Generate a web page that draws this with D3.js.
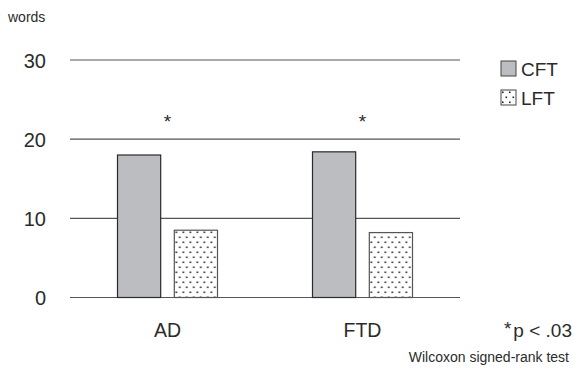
<!DOCTYPE html>
<html>
<head>
<meta charset="utf-8">
<script src="https://d3js.org/d3.v7.min.js"></script>
<style>
  body { margin: 0; background: #fff; }
  svg text { font-family: "Liberation Sans", Arial, sans-serif; fill: #2b2b2b; }
</style>
</head>
<body>
<div id="chart"></div>
<script>
var categories = ["AD", "FTD"];
var series     = ["CFT", "LFT"];
var cftValues  = [18.0, 18.4];
var lftValues  = [8.5, 8.2];
var yTicks     = [0, 10, 20, 30];
var sigMarks   = ["*", "*"];

var width = 573, height = 373;

var svg = d3.select("#chart").append("svg")
    .attr("width", width)
    .attr("height", height);

var defs = svg.append("defs");
var pat = defs.append("pattern")
    .attr("id", "dots")
    .attr("patternUnits", "userSpaceOnUse")
    .attr("width", 7)
    .attr("height", 10);
pat.append("rect").attr("width", 7).attr("height", 10).attr("fill", "#fff");
pat.append("rect").attr("x", 1).attr("y", 1.5).attr("width", 1.6).attr("height", 1.6).attr("fill", "#222");
pat.append("rect").attr("x", 4.5).attr("y", 6.5).attr("width", 1.6).attr("height", 1.6).attr("fill", "#222");

var xScale = d3.scaleBand().domain(categories).range([70, 460]);
var xInner = d3.scaleBand().domain(series).range([-50, 50]).paddingInner(0.24);
var yScale = d3.scaleLinear().domain([0, 30]).range([297.5, 60]);

// gridlines
svg.append("g").selectAll("line")
    .data(yTicks)
    .enter().append("line")
    .attr("x1", 70).attr("x2", 460)
    .attr("y1", function(d) { return yScale(d); })
    .attr("y2", function(d) { return yScale(d); })
    .attr("stroke", "#555")
    .attr("stroke-width", 1.2);

// y tick labels
svg.append("g").selectAll("text")
    .data(yTicks)
    .enter().append("text")
    .attr("x", 46)
    .attr("y", function(d) { return yScale(d) + 7.5; })
    .attr("text-anchor", "end")
    .style("font-size", "20px")
    .text(function(d) { return d; });

svg.append("text")
    .attr("x", 8).attr("y", 22)
    .style("font-size", "14px")
    .text("words");

var rows = categories.map(function(c, i) {
    return { cat: c, values: [
        { key: "CFT", v: cftValues[i] },
        { key: "LFT", v: lftValues[i] }
    ]};
});

var groups = svg.append("g").selectAll("g")
    .data(rows)
    .enter().append("g")
    .attr("transform", function(d) {
        return "translate(" + (xScale(d.cat) + xScale.bandwidth() / 2) + ",0)";
    });

groups.selectAll("rect")
    .data(function(d) { return d.values; })
    .enter().append("rect")
    .attr("x", function(d) { return xInner(d.key); })
    .attr("width", xInner.bandwidth())
    .attr("y", function(d) { return yScale(d.v); })
    .attr("height", function(d) { return yScale(0) - yScale(d.v); })
    .attr("fill", function(d) { return d.key == "CFT" ? "#bcbdc1" : "url(#dots)"; })
    .attr("stroke", function(d) { return d.key == "CFT" ? "#2a2a2a" : "#555"; })
    .attr("stroke-width", 1.2);

// significance marks
svg.append("g").selectAll("text")
    .data(categories)
    .enter().append("text")
    .attr("x", function(d) { return xScale(d) + xScale.bandwidth() / 2; })
    .attr("y", 128)
    .attr("text-anchor", "middle")
    .style("font-size", "19px")
    .text(function(d, i) { return sigMarks[i]; });

// category labels
svg.append("g").selectAll("text")
    .data(categories)
    .enter().append("text")
    .attr("x", function(d) { return xScale(d) + xScale.bandwidth() / 2; })
    .attr("y", 337)
    .attr("text-anchor", "middle")
    .style("font-size", "19.5px")
    .text(function(d) { return d; });

var pText = svg.append("text")
    .attr("x", 572).attr("y", 337)
    .attr("text-anchor", "end")
    .style("font-size", "19px");
pText.append("tspan").attr("dy", -2).text("*");
pText.append("tspan").attr("dy", 2).attr("dx", 2).text("p < .03");

svg.append("text")
    .attr("x", 569).attr("y", 362)
    .attr("text-anchor", "end")
    .style("font-size", "14px")
    .text("Wilcoxon signed-rank test");

// legend
var legend = svg.append("g").selectAll("g")
    .data(series)
    .enter().append("g")
    .attr("transform", function(d, i) { return "translate(501," + (61 + i * 29) + ")"; });

legend.append("rect")
    .attr("width", 15).attr("height", 15)
    .attr("fill", function(d) { return d == "CFT" ? "#bcbdc1" : "url(#dots)"; })
    .attr("stroke", "#444")
    .attr("stroke-width", 1);

legend.append("text")
    .attr("x", 20).attr("y", 15)
    .style("font-size", "19px")
    .text(function(d) { return d; });
</script>
</body>
</html>
